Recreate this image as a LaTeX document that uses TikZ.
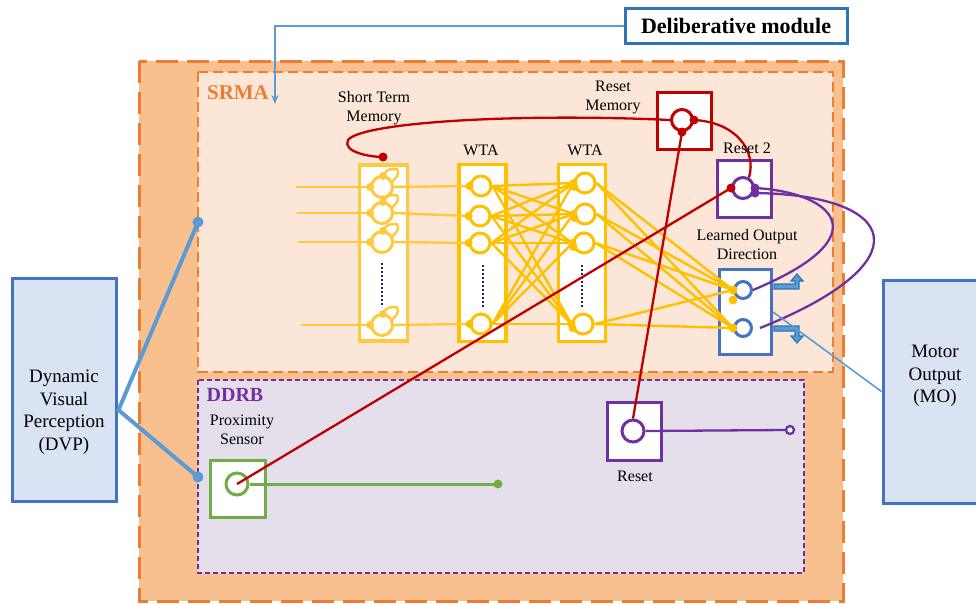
\documentclass[tikz,border=0pt]{standalone}
\usepackage{fontspec}
\setmainfont{Liberation Serif}
\usetikzlibrary{arrows.meta,calc}
\definecolor{peach}{HTML}{F8BF8F}
\definecolor{srmafill}{HTML}{FCE6D8}
\definecolor{ddrbfill}{HTML}{E5DFEC}
\definecolor{orng}{HTML}{ED7D31}
\definecolor{pblue}{HTML}{DAE3F3}
\definecolor{bblue}{HTML}{4472C4}
\definecolor{lblue}{HTML}{5B9BD5}
\definecolor{dblue}{HTML}{2E75B6}
\definecolor{rred}{HTML}{C00000}
\definecolor{ppl}{HTML}{7030A0}
\definecolor{grn}{HTML}{70AD47}
\definecolor{ylw}{HTML}{FFC000}
\definecolor{ylwl}{HTML}{FFC83D}
\definecolor{navy}{HTML}{1F1F6F}
\tikzset{
  lbl/.style={font=\fontsize{16}{19}\selectfont, align=center, inner sep=0pt, text=black},
  biglbl/.style={font=\fontsize{19}{22.5}\selectfont, align=center, inner sep=0pt, text=black},
  neuron/.style={circle, draw, line width=3pt, fill=white, minimum size=20pt, inner sep=0pt},
  unitbox/.style={draw, line width=3.2pt, fill=white, inner sep=0pt},
  yline/.style={ylw, line width=2.4pt},
  sline/.style={ylwl, line width=2.4pt},
  rline/.style={rred, line width=2.3pt},
  pline/.style={ppl, line width=2.3pt},
  bigbox/.style={draw=bblue, fill=pblue, line width=3pt, inner sep=0pt, minimum width=104pt, minimum height=223pt},
  blockarrow/.style={draw=dblue, fill=lblue, line width=1.2pt, line join=miter},
  dotcol/.style={navy, line width=2.8pt, dash pattern=on 2pt off 2pt},
}
\begin{document}
\begin{tikzpicture}[x=1pt,y=-1pt]
\useasboundingbox (0,0) rectangle (976,603);
% regions
\draw[orng, fill=peach, line width=3pt, dash pattern=on 22pt off 9pt] (139,61) rectangle (843,601);
\draw[orng, fill=srmafill, line width=2pt, dash pattern=on 10pt off 5pt] (198,72) rectangle (833,372);
\draw[ppl, fill=ddrbfill, line width=2pt, dash pattern=on 5pt off 3pt] (198,380) rectangle (804,573);

% deliberative module
\node[draw=dblue, line width=3pt, fill=white, minimum width=222pt, minimum height=35pt, inner sep=0pt, font=\bfseries\fontsize{22}{26}\selectfont] (dm) at (736,26) {Deliberative module};
\coordinate (srmain) at (275,104);
\draw[lblue, line width=2.2pt, -{Stealth[length=9pt,width=7pt]}] (dm.west) -| (srmain);

\node[font=\bfseries\fontsize{21}{24}\selectfont, text=orng, inner sep=0pt] (srma) at (238,93) {SRMA};
\node[font=\bfseries\fontsize{20}{24}\selectfont, text=ppl, inner sep=0pt] (ddrb) at (235,395) {DDRB};

% side boxes
\node[bigbox] (dvp) at (64,390) {};
\node[biglbl] (dvpt) at (64,412) {Dynamic\\Visual\\Perception\\(DVP)};
\node[bigbox, minimum width=110pt, anchor=north west] (mo) at (881.5,278.5) {};
\node[biglbl] (mot) at (935,376) {Motor\\Output\\(MO)};

\coordinate (dvpj) at ($(dvp.east)+(1,20)$);
\coordinate (dvpa) at (198,222);
\coordinate (dvpb) at (198,477);
\draw[lblue, line width=4pt, line join=miter] (dvpa) -- (dvpj) -- (dvpb);
\fill[lblue] (dvpa) circle (5.5pt) (dvpb) circle (5.5pt);

% unit boxes
\node[unitbox, draw=ylwl, minimum width=48pt, minimum height=176pt] (stmbox) at (383.5,253) {};
\node[unitbox, draw=ylw, line width=3.6pt, minimum width=47pt, minimum height=177pt] (w1box) at (482.5,253) {};
\node[unitbox, draw=ylw, line width=3.6pt, minimum width=47pt, minimum height=177pt] (w2box) at (582,253) {};
\node[unitbox, draw=rred, minimum width=54pt, minimum height=57pt] (rmbox) at (684.5,121) {};
\node[unitbox, draw=ppl, minimum width=54pt, minimum height=57pt] (r2box) at (744.5,189) {};
\node[unitbox, draw=bblue, minimum width=52pt, minimum height=85pt] (lodbox) at (745.5,312) {};
\node[unitbox, draw=ppl, minimum width=54pt, minimum height=58pt] (rstbox) at (634.5,431.5) {};
\node[unitbox, draw=grn, minimum width=55pt, minimum height=57pt] (psbox) at (238,489) {};

% neurons
\foreach \n/\yy in {1/187,2/213,3/242,4/325} \node[neuron, draw=ylwl, minimum size=21pt] (s\n) at (382,\yy) {};
\foreach \n/\xx/\yy in {1/481/186,2/480/216,3/480/243,4/481/324} \node[neuron, draw=ylw] (a\n) at (\xx,\yy) {};
\foreach \n/\xx/\yy in {1/585/183,2/585/214,3/584/243,4/583/324} \node[neuron, draw=ylw] (b\n) at (\xx,\yy) {};
\node[neuron, draw=bblue, minimum size=17pt] (l1) at (743,290) {};
\node[neuron, draw=bblue, minimum size=17pt] (l2) at (743,328) {};
\node[neuron, draw=rred, minimum size=21pt] (rm) at (682,120) {};
\node[neuron, draw=ppl, minimum size=21pt] (r2) at (743,188) {};
\node[neuron, draw=ppl, minimum size=22pt] (rst) at (633,431) {};
\node[neuron, draw=grn, minimum size=22pt] (ps) at (237,484) {};

% dotted columns
\draw[dotcol] (382,263) -- (382,307);
\draw[dotcol] (483,265) -- (483,307);
\draw[dotcol] (582,265) -- (582,307);

% STM inputs, loops, to WTA1
\foreach \n/\dx in {1/74,2/73,3/72,4/69} {
  \coordinate (in\n) at ($(s\n.west)+(-\dx,0)$);
  \draw[sline] (in\n) -- (s\n.west);
  \draw[sline] (s\n.east) -- (a\n.west);
  \draw[sline] ($(s\n)+(1,-11)$) .. controls +(5,-9) and +(-7,1) .. ($(s\n)+(15,-18)$) .. controls +(3,6) and +(4,-5) .. ($(s\n)+(10,-5)$);
  \fill[ylwl] (s\n.west) circle (4pt) ($(s\n)+(1,-11)$) circle (4pt);
}
% WTA1 -> WTA2
\foreach \i in {1,...,4} \foreach \j in {1,...,4} \draw[yline] (a\i.east) -- (b\j.west);
% WTA2 -> LOD
\foreach \i in {1,...,4} {
  \draw[yline] (b\i.east) -- (l1.west);
  \draw[yline] (b\i.east) -- (l2.west);
}
\foreach \n in {1,...,4} {
  \fill[ylw] (a\n.west) circle (4pt) (b\n.west) circle (4pt) ($(b\n.west)+(1,4)$) circle (4pt);
}
\fill[ylw] (l1.west) circle (4.5pt) ($(l1.west)+(0,10)$) circle (4.5pt) (l2.west) circle (4.5pt);

% red connections
\coordinate (stmin) at (383,157);
\draw[rline] (rm.west) .. controls (520,113) and (362,122) .. (348,140) .. controls (342,152) and (370,157) .. (stmin);
\fill[rred] (stmin) circle (4.5pt);
\draw[rline] (rm.south) -- (rst.north);
\draw[rline] (rm.east) .. controls (735,122) and (757,150) .. (r2.60);
\draw[rline] (r2.west) -- (ps.center);
\fill[rred] (rm.south) circle (4.5pt) (rm.east) circle (4.5pt) (r2.west) circle (4.5pt);

% purple connections
\draw[pline] (r2.east) .. controls (830,192) and (885,235) .. (l1.east);
\draw[pline] ($(r2.east)+(0,5)$) .. controls (900,195) and (925,262) .. ($(l2.east)+(7,0)$);
\fill[ppl] (r2.east) circle (4.5pt) ($(r2.east)+(0,5)$) circle (4.5pt);
\node[circle, draw=ppl, fill=white, line width=2.3pt, minimum size=8pt, inner sep=0pt] (rend) at (790,430) {};
\draw[pline] (rst.east) -- (rend.west);

% green
\coordinate (gend) at (498,484);
\draw[grn, line width=3pt] (ps.east) -- (gend);
\fill[grn] (gend) circle (4.5pt);

% output arrows
\draw[blockarrow] (774,284)--(795,284)--(795,281)--(791,281)--(797,274)--(803,281)--(799,281)--(799,289)--(774,289)--cycle;
\draw[blockarrow] (774,331)--(795,331)--(795,336)--(791,336)--(797,343)--(803,336)--(799,336)--(799,326)--(774,326)--cycle;
\draw[lblue, line width=1.6pt] (lodbox.east) -- (mo.west);

% labels
\node[lbl] (stml) at (374,108) {Short Term\\Memory};
\node[lbl] (w1l) at (481,150) {WTA};
\node[lbl] (w2l) at (585,150) {WTA};
\node[lbl] (rml) at (613,97) {Reset\\Memory};
\node[lbl] (r2l) at (747,148) {Reset 2};
\node[lbl] (lodl) at (747,245) {Learned Output\\Direction};
\node[lbl] (psl) at (242,430) {Proximity\\Sensor};
\node[lbl] (rstl) at (635,476) {Reset};
\end{tikzpicture}
\end{document}
